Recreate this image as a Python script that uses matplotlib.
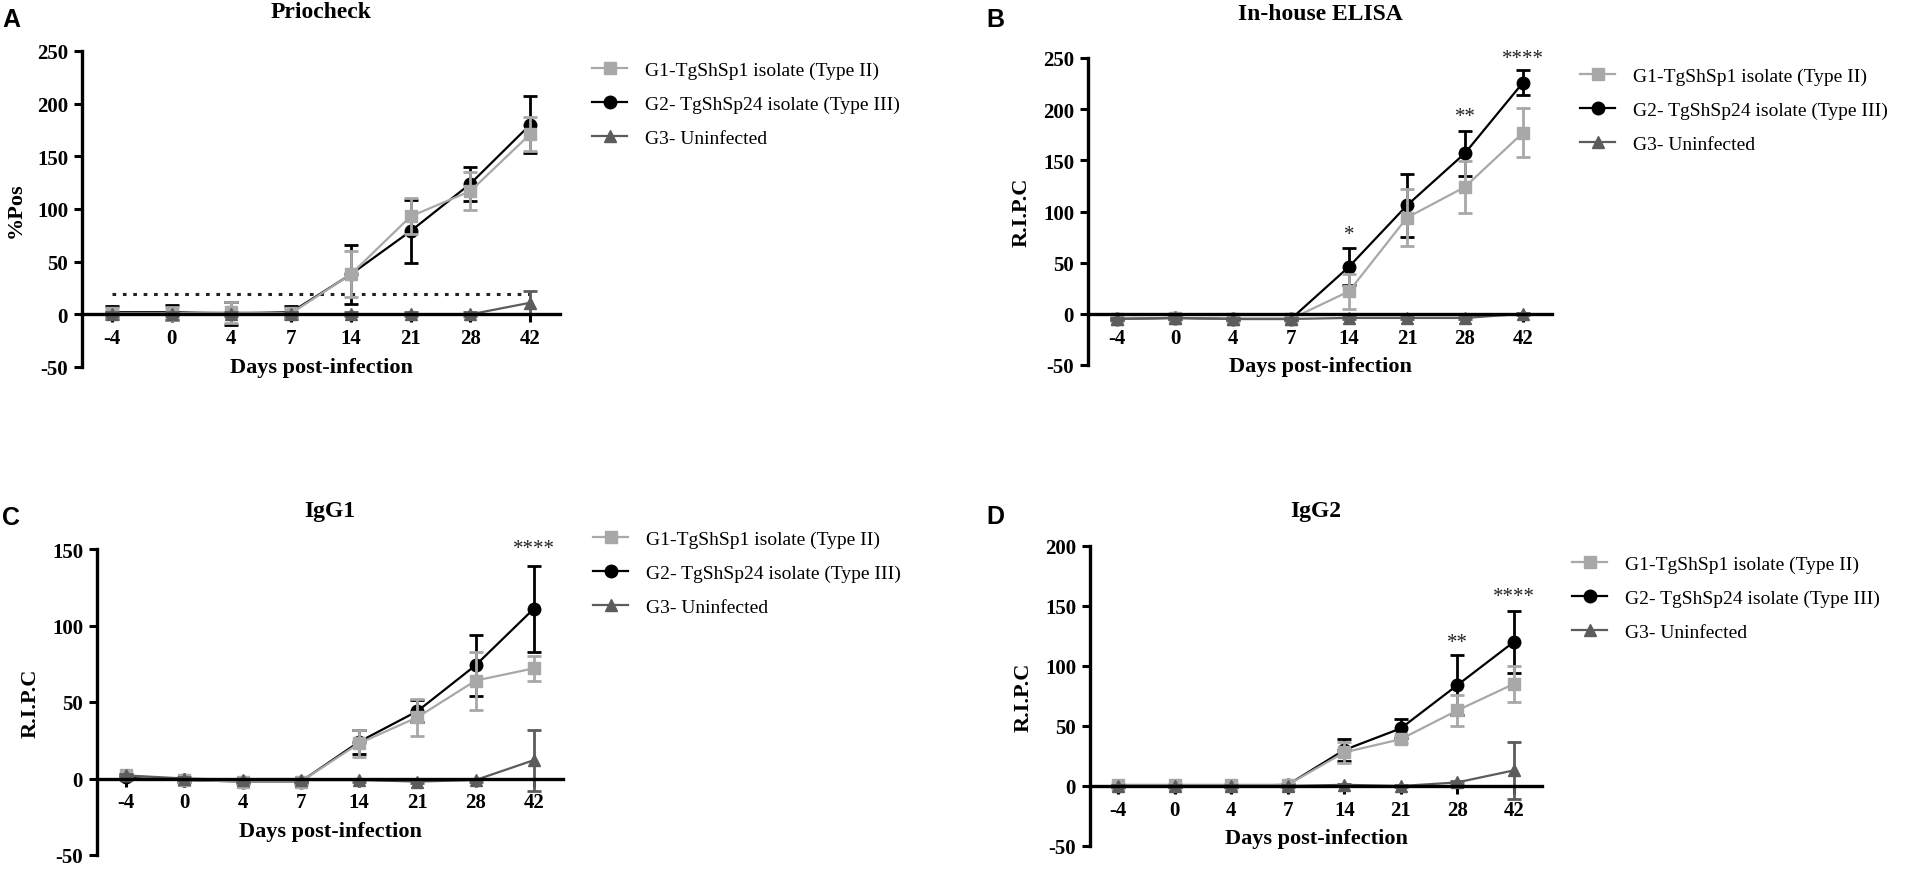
import numpy as np
import matplotlib.pyplot as plt
from matplotlib.lines import Line2D

plt.rcParams['font.family'] = ['Liberation Serif', 'DejaVu Serif']
plt.rcParams['axes.unicode_minus'] = False

days = ['-4', '0', '4', '7', '14', '21', '28', '42']
labels = ['G1-TgShSp1 isolate (Type II)', 'G2- TgShSp24 isolate (Type III)', 'G3- Uninfected']

# A - Priocheck (%Pos)
prio_g1 = [1, 1, 2, 1, 38, 93, 117, 171]
prio_g1_err = [5, 6, 10, 5, 22, 17, 18, 16]
prio_g2 = [2, 2, 1, 2, 38, 79, 124, 180]
prio_g2_err = [6, 7, 11, 6, 28, 30, 16, 27]
prio_g3 = [0, 0, 0, 0, 0, 0, 0, 11]
prio_g3_err = [2, 2, 2, 2, 2, 2, 2, 11]
prio_cutoff = 19

# B - In-house ELISA (R.I.P.C)
elisa_g1 = [-5, -4, -5, -5, 22, 94, 124, 177]
elisa_g1_err = [1, 1, 1, 1, 17, 28, 25, 24]
elisa_g2 = [-5, -4, -5, -5, 46, 106, 157, 226]
elisa_g2_err = [1, 1, 1, 1, 18, 31, 22, 12]
elisa_g3 = [-5, -4, -5, -5, -4, -4, -4, 0]
elisa_g3_err = [1, 1, 1, 1, 1, 1, 1, 1]
elisa_stars = ['', '', '', '', '*', '', '**', '****']
elisa_star_y = [0, 0, 0, 0, 68, 0, 184, 240]

# C - IgG1 (R.I.P.C)
igg1_g1 = [2, -1, -2, -2, 23, 40, 64, 72]
igg1_g1_err = [1, 1, 1, 1, 9, 12, 19, 8]
igg1_g2 = [1, -1, -2, -2, 24, 44, 74, 111]
igg1_g2_err = [1, 1, 1, 1, 8, 7, 20, 28]
igg1_g3 = [2, 0, -1, -1, -1, -2, -1, 12]
igg1_g3_err = [1, 1, 1, 1, 1, 1, 1, 20]
igg1_stars = ['', '', '', '', '', '', '', '****']
igg1_star_y = [0, 0, 0, 0, 0, 0, 0, 144]

# D - IgG2 (R.I.P.C)
igg2_g1 = [1, 1, 1, 1, 28, 39, 63, 85]
igg2_g1_err = [1, 1, 1, 1, 9, 3, 13, 15]
igg2_g2 = [0, 0, 0, 1, 30, 48, 84, 120]
igg2_g2_err = [1, 1, 1, 1, 9, 8, 25, 26]
igg2_g3 = [0, 0, 0, 0, 1, 0, 3, 13]
igg2_g3_err = [1, 1, 1, 1, 1, 1, 1, 24]
igg2_stars = ['', '', '', '', '', '', '**', '****']
igg2_star_y = [0, 0, 0, 0, 0, 0, 112, 150]

W, H = 1919, 870
fig = plt.figure(figsize=(W / 100, H / 100), dpi=100)


def px(x0, y0, x1, y1):
    # pixel box (left, top, right, bottom) -> figure rect
    return [x0 / W, 1 - y1 / H, (x1 - x0) / W, (y1 - y0) / H]


panels = [
    dict(letter='A', title='Priocheck', ylabel='%Pos', rect=px(82, 52, 560, 368), ylim=(-50, 250),
         g1=(prio_g1, prio_g1_err), g2=(prio_g2, prio_g2_err), g3=(prio_g3, prio_g3_err),
         stars=None, letter_xy=(2, 20), title_y=12, leg=(592, 62)),
    dict(letter='B', title='In-house ELISA', ylabel='R.I.P.C', rect=px(1088, 59, 1552, 366), ylim=(-50, 250),
         g1=(elisa_g1, elisa_g1_err), g2=(elisa_g2, elisa_g2_err), g3=(elisa_g3, elisa_g3_err),
         stars=(elisa_stars, elisa_star_y), letter_xy=(986, 20), title_y=14, leg=(1580, 68)),
    dict(letter='C', title='IgG1', ylabel='R.I.P.C', rect=px(97, 550, 563, 856), ylim=(-50, 150),
         g1=(igg1_g1, igg1_g1_err), g2=(igg1_g2, igg1_g2_err), g3=(igg1_g3, igg1_g3_err),
         stars=(igg1_stars, igg1_star_y), letter_xy=(2, 518), title_y=512, leg=(593, 531)),
    dict(letter='D', title='IgG2', ylabel='R.I.P.C', rect=px(1090, 547, 1542, 847), ylim=(-50, 200),
         g1=(igg2_g1, igg2_g1_err), g2=(igg2_g2, igg2_g2_err), g3=(igg2_g3, igg2_g3_err),
         stars=(igg2_stars, igg2_star_y), letter_xy=(986, 517), title_y=512, leg=(1572, 556)),
]

c1, c2, c3 = '#a8a8a8', '#000000', '#5c5c5c'
x = np.arange(len(days))

for p in panels:
    ax = fig.add_axes(p['rect'])
    ax.errorbar(x, p['g2'][0], yerr=p['g2'][1], color=c2, marker='o', ms=9, lw=1.6,
                elinewidth=2, capsize=5, capthick=2, zorder=3)
    ax.errorbar(x, p['g1'][0], yerr=p['g1'][1], color=c1, marker='s', ms=9, lw=1.6,
                elinewidth=2, capsize=5, capthick=2, zorder=4)
    ax.errorbar(x, p['g3'][0], yerr=p['g3'][1], color=c3, marker='^', ms=8, lw=1.6,
                elinewidth=2, capsize=5, capthick=2, zorder=5)
    if p['letter'] == 'A':
        ax.hlines(prio_cutoff, 0, 7, colors='#222222', linestyles=(0, (1.2, 2.2)), lw=2.2, zorder=2)
    if p['stars']:
        for i, (s, sy) in enumerate(zip(*p['stars'])):
            if s:
                ax.text(i, sy, s, ha='center', va='bottom', fontsize=15, color='#222222')

    ax.set_xlim(-0.5, 7.5)
    ax.set_ylim(*p['ylim'])
    ax.set_yticks(np.arange(p['ylim'][0], p['ylim'][1] + 1, 50))
    ax.set_xticks(x, days)
    for s in ('top', 'right'):
        ax.spines[s].set_visible(False)
    ax.spines['bottom'].set_position(('data', 0))
    ax.spines['bottom'].set_zorder(6)
    for s in ('left', 'bottom'):
        ax.spines[s].set_linewidth(2.4)
    ax.tick_params(width=2.2, length=6, labelsize=15, pad=4)
    for t in ax.get_xticklabels() + ax.get_yticklabels():
        t.set_fontweight('bold')
    ax.set_xlabel('Days post-infection', fontsize=16, fontweight='bold', labelpad=6)
    ax.set_ylabel(p['ylabel'], fontsize=16, fontweight='bold', labelpad=8)

    cx = (p['rect'][0] + p['rect'][2] / 2)
    fig.text(cx, 1 - p['title_y'] / H, p['title'], ha='center', va='center',
             fontsize=17, fontweight='bold')
    fig.text(p['letter_xy'][0] / W, 1 - p['letter_xy'][1] / H, p['letter'], ha='left', va='center',
             fontsize=18, fontweight='bold', family=['Liberation Sans', 'DejaVu Sans'])

    handles = [
        Line2D([], [], color=c1, marker='s', ms=9, lw=1.6),
        Line2D([], [], color=c2, marker='o', ms=9, lw=1.6),
        Line2D([], [], color=c3, marker='^', ms=8, lw=1.6),
    ]
    fig.legend(handles, labels, loc='upper left',
               bbox_to_anchor=(p['leg'][0] / W, 1 - p['leg'][1] / H),
               bbox_transform=fig.transFigure, frameon=False, fontsize=14,
               borderpad=0, borderaxespad=0, handlelength=1.8, handletextpad=0.9,
               labelspacing=0.85)

fig.savefig('out.png', dpi=100)
